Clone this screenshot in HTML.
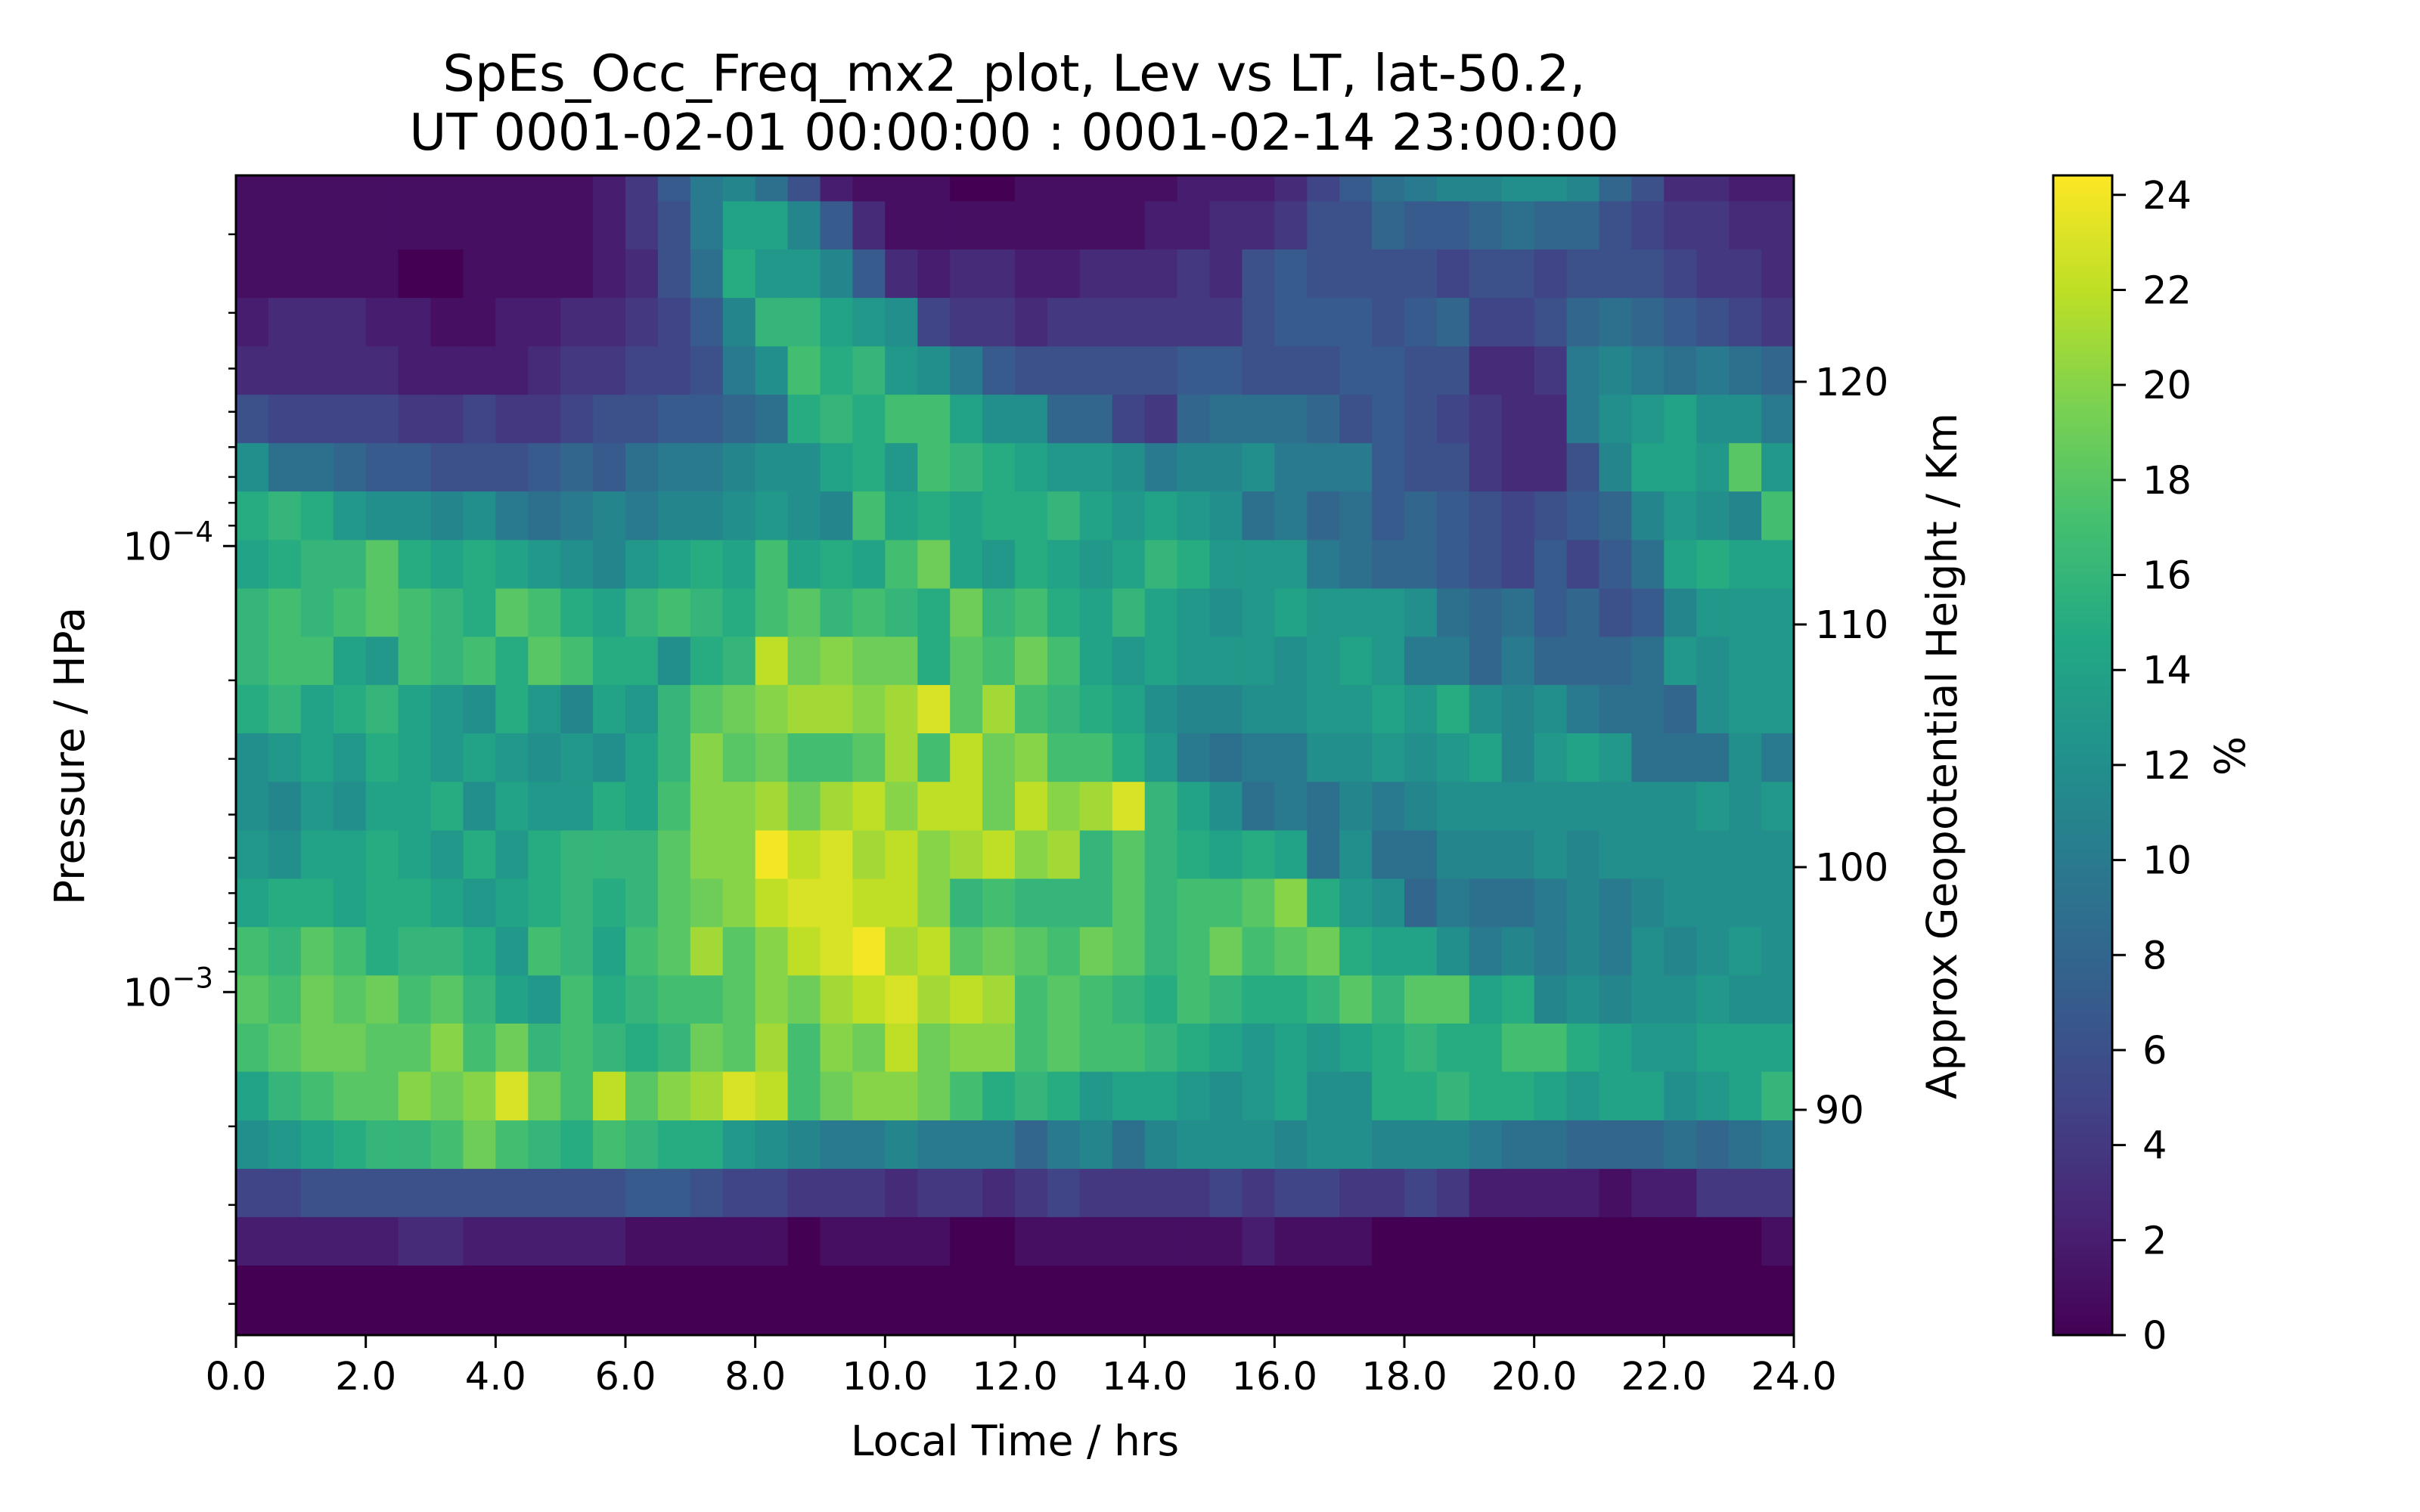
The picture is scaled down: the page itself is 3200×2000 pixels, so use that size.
<!DOCTYPE html>
<html><head><meta charset="utf-8"><style>
html,body{margin:0;padding:0;background:#fff;}
svg{display:block;font-family:"DejaVu Sans","Liberation Sans",sans-serif;}
</style></head><body>
<svg id="chart" width="3200" height="2000" viewBox="0 0 3200 2000" xmlns="http://www.w3.org/2000/svg">
<rect width="3200" height="2000" fill="#fff"/>
<text x="1341" y="120" font-size="67" text-anchor="middle">SpEs_Occ_Freq_mx2_plot, Lev vs LT, lat-50.2,</text>
<text x="1341" y="198" font-size="67" text-anchor="middle">UT 0001-02-01 00:00:00 : 0001-02-14 23:00:00</text>
<g id="cells"></g>
<g id="axes"></g>
</svg>
<script>
const hours = [0,2,4,6,8,10,12,14,16,18,20,22,24];
const xTickLabels = ["0.0","2.0","4.0","6.0","8.0","10.0","12.0","14.0","16.0","18.0","20.0","22.0","24.0"];
const heightTicks = [90,100,110,120];
const cbTicks = [0,2,4,6,8,10,12,14,16,18,20,22,24];
const pressures = [1.49e-5,1.91e-5,2.45e-5,3.15e-5,4.04e-5,5.19e-5,6.66e-5,8.55e-5,1.10e-4,1.41e-4,1.81e-4,2.32e-4,2.98e-4,3.83e-4,4.92e-4,6.31e-4,8.10e-4,1.04e-3,1.33e-3,1.71e-3,2.20e-3,2.82e-3,3.62e-3,4.65e-3];
const freq = [
[1,1,1,1,1,1,1,1,1,1,1,2,4,7,10,11,9,6,2,1,1,1,0,0,1,1,1,1,1,2,2,2,3,5,7,9,10,11,11,12,12,11,8,6,3,3,2,2],
[1,1,1,1,1,1,1,1,1,1,1,2,4,6,10,14,14,11,7,3,1,1,1,1,1,1,1,1,2,2,3,3,4,6,6,8,7,7,8,9,8,8,6,5,4,4,3,3],
[1,1,1,1,1,0,0,1,1,1,1,2,3,6,9,15,13,13,11,7,3,2,3,3,2,2,3,3,3,4,3,6,7,6,6,6,6,5,6,6,5,6,6,6,5,4,4,3],
[2,3,3,3,2,2,1,1,2,2,3,3,4,5,7,11,16,16,14,13,12,5,4,4,3,4,4,4,4,4,4,6,7,7,7,6,7,8,5,5,6,8,9,8,7,6,5,4],
[3,3,3,3,3,2,2,2,2,3,4,4,5,5,6,10,12,17,15,16,13,12,10,7,6,6,6,6,6,7,7,6,6,6,7,7,6,6,3,3,4,10,11,10,9,10,9,8],
[6,5,5,5,5,4,4,5,4,4,5,6,6,7,7,8,9,15,16,15,17,17,14,12,12,8,8,5,4,8,9,9,9,8,6,7,6,5,4,3,3,10,12,13,14,12,12,10],
[12,9,9,8,7,7,6,6,6,7,8,7,9,10,10,11,12,12,14,15,13,17,16,15,14,13,13,12,10,11,11,12,10,10,10,7,6,6,4,3,3,6,11,14,14,13,18,13],
[15,16,15,13,12,12,11,12,10,9,10,11,10,11,11,12,13,12,11,17,14,15,14,15,15,16,14,13,14,13,12,9,10,8,9,7,8,7,6,5,6,7,8,11,13,12,11,17],
[14,15,16,16,18,15,14,15,14,13,12,11,13,14,15,14,17,14,15,14,17,19,14,13,15,14,13,14,16,15,13,13,13,10,9,8,8,7,6,5,7,5,7,9,14,15,14,14],
[16,17,16,17,18,17,16,15,18,17,15,14,16,17,16,15,17,18,16,17,16,15,19,16,17,15,14,16,14,13,12,13,14,13,13,13,12,9,8,9,7,8,6,7,11,13,13,13],
[16,17,17,14,13,17,16,17,15,18,17,15,15,12,15,16,22,19,20,19,19,15,18,17,19,17,14,13,14,13,13,13,12,13,14,13,10,10,8,10,8,8,8,9,13,12,13,13],
[15,16,14,15,16,14,13,12,15,13,11,14,13,16,18,19,20,21,21,20,21,23,18,21,17,16,15,14,12,11,11,12,12,13,13,14,13,15,12,11,12,10,9,9,8,12,13,13],
[12,13,14,13,15,14,13,14,13,12,13,12,14,16,20,18,19,17,17,18,21,17,22,19,20,17,17,15,13,10,9,10,10,12,12,13,12,13,14,11,13,14,13,9,9,9,12,10],
[12,11,13,12,14,14,15,12,14,13,13,15,14,17,20,20,21,19,21,22,20,22,22,19,22,20,21,23,16,14,12,9,10,9,11,10,11,12,12,12,12,12,12,12,12,13,12,13],
[13,12,14,14,15,14,13,15,13,15,16,16,16,18,20,20,24,22,23,21,22,20,21,22,20,21,16,18,16,15,14,15,14,9,12,9,9,11,11,11,12,11,12,12,12,12,12,12],
[14,15,15,14,15,15,14,13,14,15,16,15,16,18,19,20,22,23,23,22,22,20,16,17,16,16,16,18,16,17,17,18,20,15,13,12,8,10,9,9,10,11,10,11,12,12,12,12],
[17,16,18,17,15,16,16,15,13,17,16,14,17,18,21,18,20,22,23,24,21,22,18,19,18,17,19,18,16,17,19,17,18,19,15,14,14,12,10,11,10,11,10,12,11,12,13,12],
[18,17,19,18,19,17,18,16,14,13,17,15,16,17,17,18,20,19,21,22,23,21,22,21,17,18,17,16,15,17,16,15,15,16,18,16,18,18,14,15,11,12,11,12,12,13,12,12],
[17,18,19,19,18,18,20,17,19,16,17,16,15,16,19,18,21,17,20,19,22,19,20,20,17,18,17,17,16,15,14,13,14,13,14,15,16,15,15,17,17,15,14,13,13,14,14,14],
[14,16,17,18,18,20,19,20,23,19,17,22,18,20,21,23,22,17,19,20,20,19,17,15,16,15,13,14,14,13,12,13,14,12,12,15,15,16,15,15,14,13,14,14,12,13,14,16],
[12,13,14,15,16,16,17,19,17,16,15,17,16,15,15,13,12,11,10,10,11,10,10,10,8,10,11,9,11,12,12,12,11,12,12,11,11,11,10,9,9,8,8,8,9,8,9,10],
[5,5,6,6,6,6,6,6,6,6,6,6,7,7,6,5,5,4,4,4,3,4,4,3,4,5,4,4,4,4,5,4,5,5,4,4,5,4,2,2,2,2,1,2,2,4,4,4],
[2,2,2,2,2,3,3,2,2,2,2,2,1,1,1,1,1,0,1,1,1,1,0,0,1,1,1,1,1,1,1,2,1,1,1,0,0,0,0,0,0,0,0,0,0,0,0,1],
[0,0,0,0,0,0,0,0,0,0,0,0,0,0,0,0,0,0,0,0,0,0,0,0,0,0,0,0,0,0,0,0,0,0,0,0,0,0,0,0,0,0,0,0,0,0,0,0]
];

const NS="http://www.w3.org/2000/svg";
const X0=312,X1=2372,Y0=232,Y1=1766;
const LOGTOP=-4.831, LOGBOT=-2.231;
const VMAX=24.41;
const xScale=h=>X0+(h/24)*(X1-X0);
const yScale=lp=>Y0+(lp-LOGTOP)/(LOGBOT-LOGTOP)*(Y1-Y0);
const hScale=km=>1468-(km-90)*32.1;
const cbY=v=>1766-(v/VMAX)*(1766-232);
const stops=["#440154","#482475","#414487","#355f8d","#2a788e","#21918c","#22a884","#44bf70","#7ad151","#bddf26","#fde725"];
function hex(c){return [parseInt(c.slice(1,3),16),parseInt(c.slice(3,5),16),parseInt(c.slice(5,7),16)];}
function viridis(t){t=Math.max(0,Math.min(1,t));const f=t*10,i=Math.min(9,Math.floor(f)),r=f-i;const a=hex(stops[i]),b=hex(stops[i+1]);return "rgb("+a.map((v,k)=>Math.round(v+(b[k]-v)*r)).join(",")+")";}
function mk(tag,attrs,parent){const e=document.createElementNS(NS,tag);for(const k in attrs)e.setAttribute(k,attrs[k]);parent.appendChild(e);return e;}

const cells=document.getElementById('cells');
const axes=document.getElementById('axes');
const logs=pressures.map(p=>Math.log10(p));
const nr=freq.length;
for(let r=0;r<nr;r++){
  const top=r===0?Y0:yScale((logs[r-1]+logs[r])/2);
  const bot=r===nr-1?Y1:yScale((logs[r]+logs[r+1])/2);
  const row=freq[r];const nc=row.length;
  for(let c=0;c<nc;c++){
    const xa=xScale(c*24/nc),xb=xScale((c+1)*24/nc);
    const el=mk('rect',{x:xa.toFixed(1),y:top.toFixed(1),width:(xb-xa+0.6).toFixed(1),height:(bot-top+0.6).toFixed(1),fill:viridis(row[c]/VMAX)},cells);
    
    
  }
}
let fr=mk('rect',{x:X0,y:Y0,width:X1-X0,height:Y1-Y0,fill:'none',stroke:'#000','stroke-width':3},axes);


hours.forEach((h,i)=>{
  const x=xScale(h);
  const t=mk('line',{x1:x,x2:x,y1:Y1,y2:Y1+17,stroke:'#000','stroke-width':3},axes);
  
  
  const l=mk('text',{x:x,y:Y1+72,'font-size':51,'text-anchor':'middle'},axes);
  l.textContent=xTickLabels[i];
  
  
});
for(let d=-5;d<=-3;d++){
  for(let m=1;m<10;m++){
    const lp=d+Math.log10(m);
    if(lp<LOGTOP||lp>LOGBOT)continue;
    const y=yScale(lp);const major=m===1;
    const t=mk('line',{x1:X0,x2:X0-(major?17:10),y1:y,y2:y,stroke:'#000','stroke-width':major?3:2.5},axes);
    
    
    if(major){
      const l=mk('text',{x:X0-30,y:y+18,'font-size':51,'text-anchor':'end'},axes);
      
      
      l.textContent='10';
      const s=mk('tspan',{dy:-24,'font-size':37},l);s.textContent='\u2212'+(-d);
    }
  }
}
heightTicks.forEach(km=>{
  const y=hScale(km);
  const t=mk('line',{x1:X1,x2:X1+17,y1:y,y2:y,stroke:'#000','stroke-width':3},axes);
  
  
  const l=mk('text',{x:X1+28,y:y+18,'font-size':51},axes);
  l.textContent=km;
  
  
});
const CX0=2715,CX1=2793;
const defs=mk('defs',{},axes);
const g=mk('linearGradient',{id:'vir',x1:0,y1:1,x2:0,y2:0},defs);
stops.forEach((s,i)=>mk('stop',{offset:(i/10),'stop-color':s},g));
let cb=mk('rect',{x:CX0,y:232,width:CX1-CX0,height:1766-232,fill:'url(#vir)',stroke:'#000','stroke-width':3},axes);


cbTicks.forEach(v=>{
  const y=cbY(v);
  const t=mk('line',{x1:CX1,x2:CX1+18,y1:y,y2:y,stroke:'#000','stroke-width':3},axes);
  
  
  const l=mk('text',{x:CX1+40,y:y+18,'font-size':51},axes);
  l.textContent=v;
  
  
});
</script>
<div style="position:absolute;left:0;top:0;width:3200px;height:2000px;pointer-events:none;font-family:'DejaVu Sans','Liberation Sans',sans-serif;font-size:55px;">
<div style="position:absolute;left:1342px;top:1906px;transform:translate(-50%,-50%);white-space:nowrap;">Local Time / hrs</div>
<div style="position:absolute;left:92px;top:1000px;transform:translate(-50%,-50%) rotate(-90deg);white-space:nowrap;">Pressure / HPa</div>
<div style="position:absolute;left:2568px;top:1000px;transform:translate(-50%,-50%) rotate(-90deg);white-space:nowrap;">Approx Geopotential Height / Km</div>
<div style="position:absolute;left:2949px;top:1000px;transform:translate(-50%,-50%) rotate(-90deg);white-space:nowrap;">%</div>
</div>
</body></html>
